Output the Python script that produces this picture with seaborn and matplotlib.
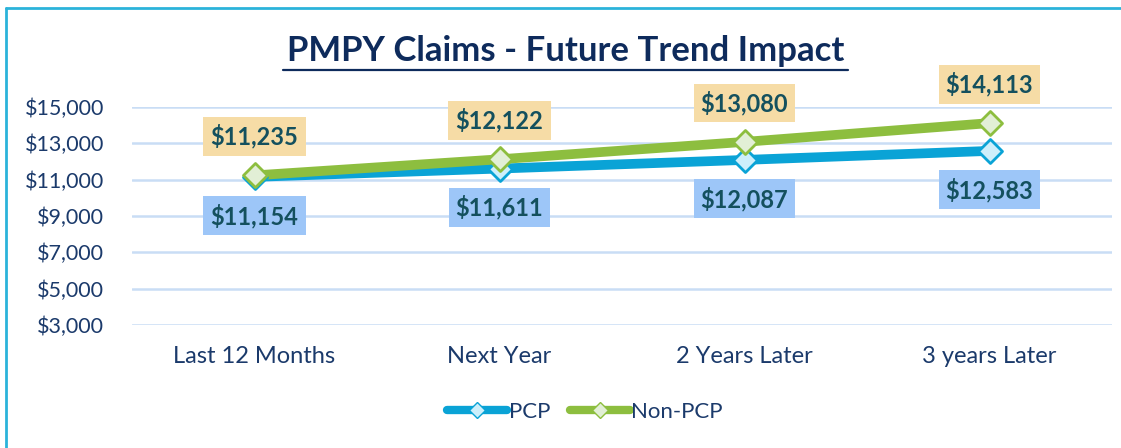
import matplotlib
matplotlib.use("Agg")
import matplotlib.pyplot as plt
import seaborn as sns
import pandas as pd
from matplotlib.lines import Line2D

categories = ["Last 12 Months", "Next Year", "2 Years Later", "3 years Later"]
pcp = [11154, 11611, 12087, 12583]
non_pcp = [11235, 12122, 13080, 14113]
yticks = [3000, 5000, 7000, 9000, 11000, 13000, 15000]

df = pd.DataFrame({
    "cat": categories * 2,
    "x": list(range(len(categories))) * 2,
    "value": pcp + non_pcp,
    "series": ["PCP"] * 4 + ["Non-PCP"] * 4,
})

sns.set_theme(style="white")
plt.rcParams["font.family"] = ["Lato", "DejaVu Sans"]

navy = "#1B3A6B"
teal_txt = "#14505E"
blue = "#0AA3D6"
green = "#8DBE3F"
blue_fill = "#CDEFFB"
green_fill = "#E2EFD6"

fig = plt.figure(figsize=(11.21, 4.48), dpi=100)
ax = fig.add_axes([132/1121, 1-325/448, 980/1121, 218/448])

sns.lineplot(data=df, x="x", y="value", hue="series",
             palette={"PCP": blue, "Non-PCP": green}, linewidth=7,
             ax=ax, legend=False, sort=False)
for s, fc, ec in [("PCP", blue_fill, blue), ("Non-PCP", green_fill, green)]:
    sub = df[df.series == s]
    ax.scatter(sub.x, sub.value, marker="D", s=150, facecolor=fc,
               edgecolor=ec, linewidth=2, zorder=5)

ax.set_xlim(-0.5, 3.5)
ax.set_ylim(3000, 15000)
ax.set_yticks(yticks)
ax.set_yticklabels([f"${v:,}" for v in yticks], color=navy, fontsize=15.5)
ax.set_xticks(range(4))
ax.set_xticklabels(categories, color=navy, fontsize=17)
ax.tick_params(axis="x", pad=15, length=0)
ax.tick_params(axis="y", pad=20, length=0)
ax.set_xlabel("")
ax.set_ylabel("")
ax.grid(axis="y", color="#C9DDF5", linewidth=1.8)
ax.set_axisbelow(True)
for sp in ax.spines.values():
    sp.set_visible(False)

for i, (p, n) in enumerate(zip(pcp, non_pcp)):
    ax.annotate(f"${n:,}", (i, n), xytext=(0, 28), textcoords="offset points",
                ha="center", va="center", fontsize=17, fontweight="bold",
                color=teal_txt, annotation_clip=False,
                bbox=dict(boxstyle="square,pad=0.3", fc="#F6DCA6", ec="none"))
    ax.annotate(f"${p:,}", (i, p), xytext=(0, -28), textcoords="offset points",
                ha="center", va="center", fontsize=17, fontweight="bold",
                color=teal_txt, annotation_clip=False,
                bbox=dict(boxstyle="square,pad=0.3", fc="#9DC6F8", ec="none"))

fig.text(566/1121, 1-51/448, "PMPY Claims - Future Trend Impact",
         ha="center", va="center", fontsize=25, fontweight="bold", color="#0E2B5C")
fig.add_artist(Line2D([283/1121, 848/1121], [1-70/448, 1-70/448],
                      color="#0E2B5C", linewidth=1.6))

handles = [Line2D([0], [0], color=blue, lw=6, marker="D", markersize=8,
                  markerfacecolor=blue_fill, markeredgecolor=blue),
           Line2D([0], [0], color=green, lw=6, marker="D", markersize=8,
                  markerfacecolor=green_fill, markeredgecolor=green)]
leg = fig.legend(handles, ["PCP", "Non-PCP"], loc="center",
                 bbox_to_anchor=(585/1121, 1-412/448), ncol=2, frameon=False,
                 fontsize=16, handlelength=2.7, handletextpad=0.05,
                 columnspacing=0.9)
for t in leg.get_texts():
    t.set_color(navy)

# frame
fig.add_artist(Line2D([6/1121, 6/1121], [0, 1-8/448], color="#2BB3DA", linewidth=2))
fig.add_artist(Line2D([6/1121, 1], [1-8/448, 1-8/448], color="#2BB3DA", linewidth=2))

fig.savefig("out.png", dpi=100)
